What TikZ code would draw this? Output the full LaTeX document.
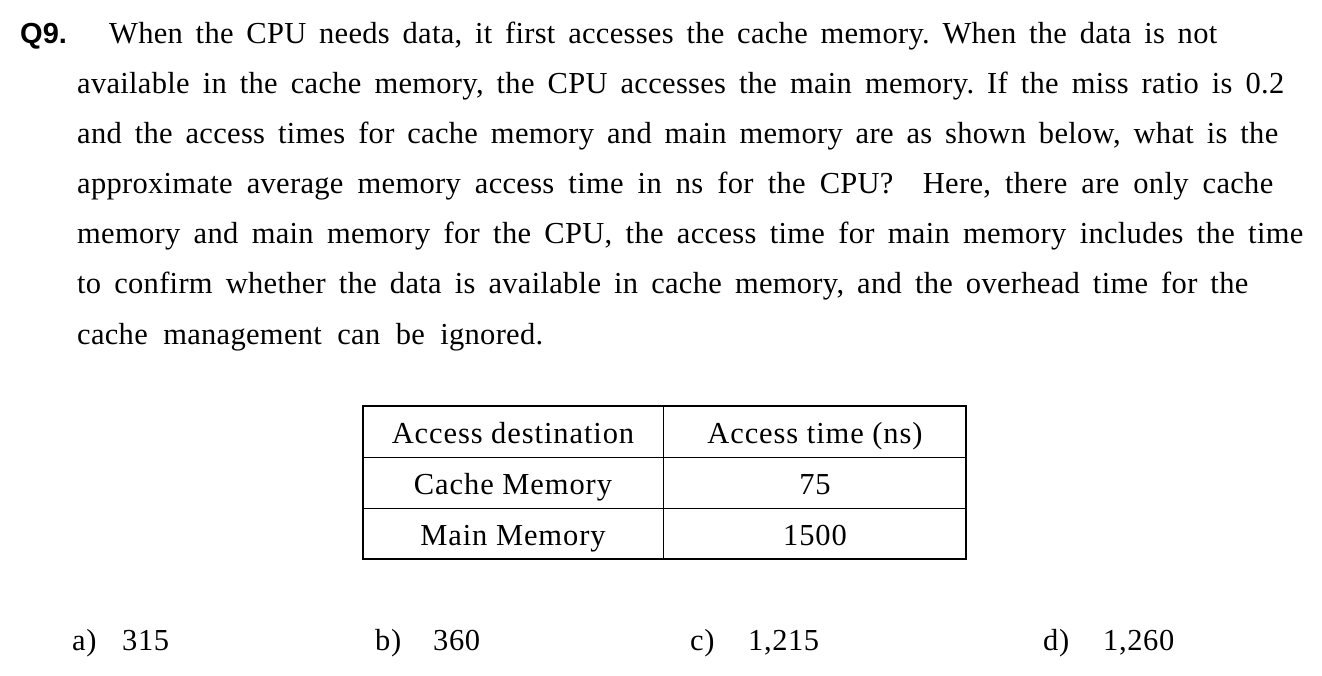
\documentclass[tikz,border=0pt]{standalone}
\usepackage{fontspec}
\setmainfont{Liberation Serif}
\newfontfamily\spaced[LetterSpace=1]{Liberation Serif}
\newfontfamily\cellfont[LetterSpace=3]{Liberation Serif}
\newfontfamily\ansfont[LetterSpace=2]{Liberation Serif}
\newfontfamily\qfont{Liberation Sans}
\newcommand\qline[2]{\makebox[#1][s]{#2}}
\frenchspacing
\begin{document}
\begin{tikzpicture}[x=1pt,y=-1pt,
  txt/.style={anchor=base west,inner sep=0pt,font=\spaced\frenchspacing\fontsize{30.5}{34}\selectfont},
  ans/.style={anchor=base west,inner sep=0pt,font=\ansfont\fontsize{30.5}{34}\selectfont},
  cell/.style={anchor=base,inner sep=0pt,font=\cellfont\fontsize{30.5}{34}\selectfont},
  outer/.style={line width=2pt},
  inner/.style={line width=1pt}]
\useasboundingbox (0,0) rectangle (1322,676);
\node[txt,font=\qfont\bfseries\fontsize{29}{34}\selectfont] (q) at (20,44) {Q9.};
\node[txt] (l1) at (109,44) {\qline{1108pt}{When the CPU needs data, it first accesses the cache memory. When the data is not}};
\node[txt] (l2) at (77,94) {\qline{1207pt}{available in the cache memory, the CPU accesses the main memory. If the miss ratio is 0.2}};
\node[txt] (l3) at (77,144) {\qline{1201pt}{and the access times for cache memory and main memory are as shown below, what is the}};
\node[txt] (l4) at (77,194) {\qline{1196pt}{approximate average memory access time in ns for the CPU?\hspace{0.5em} Here, there are only cache}};
\node[txt] (l5) at (77,244) {\qline{1226pt}{memory and main memory for the CPU, the access time for main memory includes the time}};
\node[txt] (l6) at (77,294) {\qline{1171pt}{to confirm whether the data is available in cache memory, and the overhead time for the}};
\node[txt] (l7) at (77,344) {\qline{466pt}{cache management can be ignored.}};
% table
\draw[inner] (363,457) -- (966,457);
\draw[inner] (363,508) -- (966,508);
\draw[inner] (663,406) -- (663,559);
\draw[outer] (363,406) rectangle (966,559);
\node[cell] (h1) at (513,443) {Access destination};
\node[cell] (h2) at (815,443) {Access time (ns)};
\node[cell] (c1) at (513,494) {Cache Memory};
\node[cell] (c2) at (815,494) {75};
\node[cell] (m1) at (513,545) {Main Memory};
\node[cell] (m2) at (815,545) {1500};
% answers
\node[ans] (a) at (72,650) {a)};
\node[ans] (av) at (122,650) {315};
\node[ans] (b) at (375,650) {b)};
\node[ans] (bv) at (433,650) {360};
\node[ans] (c) at (690,650) {c)};
\node[ans] (cv) at (748,650) {1,215};
\node[ans] (d) at (1043,650) {d)};
\node[ans] (dv) at (1103,650) {1,260};
\end{tikzpicture}
\end{document}
